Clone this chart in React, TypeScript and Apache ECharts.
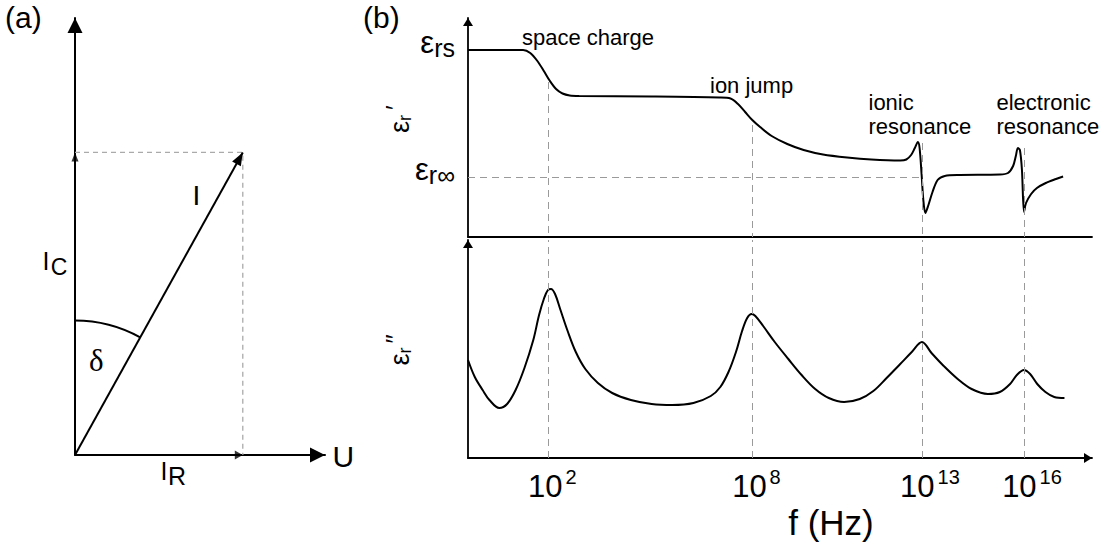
import React, { useEffect, useRef } from 'react';
import * as echarts from 'echarts';

// ---------------- data ----------------
// (a) phasor diagram, arbitrary current units (I_R = 1)
const currentIR = 1.0;
const currentIC = 1.8;
const deltaArcRadius = 0.8;
const phasorXMax = 1.49;
const phasorYMax = 2.6;

// (b) dielectric spectrum, x = log10(f / Hz), permittivity in arbitrary units
const logFMin = -0.35;
const logFMax = 18.0;
const resonanceLogF = [2, 8, 13, 16];
const tickExponents = ['2', '8', '13', '16'];
const mechanismNames = ['space charge', 'ion jump', 'ionic\nresonance', 'electronic\nresonance'];

const epsRealLogF = [
  -0.35, 1.27, 1.48, 1.69, 1.88, 2.06, 2.24, 2.43, 2.64, 2.92, 5.05, 7.04, 7.37, 7.59, 7.8, 8.01,
  8.24, 8.58, 9.04, 9.52, 10.09, 10.8, 11.51, 12.36, 12.54, 12.68, 12.79, 12.88, 12.93, 12.99,
  13.04, 13.1, 13.19, 13.31, 13.46, 13.67, 14.11, 15.29, 15.53, 15.68, 15.76, 15.82, 15.88, 15.94,
  16.0, 16.06, 16.21, 16.38, 16.64, 16.94, 17.15,
];
const epsRealValues = [
  18.7, 18.7, 18.4, 17.6, 16.6, 15.6, 14.8, 14.35, 14.15, 14.1, 14.05, 13.95, 13.85, 13.3, 12.5, 11.7,
  11.0, 10.1, 9.3, 8.7, 8.25, 7.95, 7.75, 7.65, 7.75, 8.2, 8.9, 9.5, 8.9, 6.2,
  3.7, 2.4, 3.2, 4.5, 5.7, 6.1, 6.2, 6.25, 6.4, 7.1, 8.1, 8.9, 8.7, 6.7,
  2.5, 3.4, 4.3, 4.9, 5.4, 5.8, 6.05,
];
const epsStatic = 18.7;
const epsInfinity = 6.0;
const epsRealGuideTop = [15.5, 11.2, 9.4, 8.9];
const epsRealMax = 21.9;

const epsImagLogF = [
  -0.35, -0.15, 0.08, 0.28, 0.57, 0.8, 1.05, 1.31, 1.57, 1.74, 1.89, 2.0, 2.09, 2.21, 2.37, 2.58,
  2.82, 3.1, 3.47, 3.89, 4.44, 5.05, 5.66, 6.28, 6.79, 7.07, 7.31, 7.53, 7.71, 7.86, 7.99, 8.1,
  8.33, 8.67, 9.07, 9.46, 9.86, 10.26, 10.71, 11.17, 11.57, 11.96, 12.36, 12.7, 13.0, 13.28,
  13.64, 14.05, 14.46, 14.94, 15.29, 15.59, 15.79, 16.0, 16.18, 16.39, 16.63, 16.89, 17.19,
];
const epsImagValues = [
  9.8, 8.1, 6.8, 5.8, 5.0, 5.4, 6.8, 9.0, 11.8, 14.3, 16.0, 16.8, 16.9, 16.4, 14.8, 12.7,
  10.6, 8.9, 7.5, 6.5, 5.8, 5.4, 5.3, 5.5, 6.2, 7.1, 8.6, 10.6, 12.7, 14.0, 14.4, 14.2,
  13.2, 11.6, 9.9, 8.3, 6.9, 6.0, 5.6, 5.9, 6.7, 8.0, 9.4, 10.6, 11.6, 10.5,
  9.2, 7.9, 6.9, 6.4, 6.6, 7.4, 8.3, 8.8, 8.4, 7.4, 6.6, 6.1, 6.0,
];
const epsImagMax = 21.8;

// ---------------- styles ----------------
const font = "'Liberation Sans', Arial, sans-serif";
const serif = "'Liberation Serif', 'Times New Roman', serif";
const black = '#000';
const guideGray = '#9a9a9a';

export default function App() {
  const ref = useRef<HTMLDivElement>(null);

  useEffect(() => {
    if (!ref.current) return;
    const chart = echarts.init(ref.current, null, { renderer: 'svg' });

    const realData = epsRealLogF.map((x, i) => [x, epsRealValues[i]]);
    const imagData = epsImagLogF.map((x, i) => [x, epsImagValues[i]]);

    // phasor arrow direction (grid (a) has width 250, height 437)
    const dxPx = (currentIR / phasorXMax) * 250;
    const dyPx = (currentIC / phasorYMax) * 437;
    const tilt = Math.atan2(dxPx, dyPx);
    const tiltDeg = (tilt * 180) / Math.PI;
    const headLen = 13;

    const hiddenAxisParts = {
      axisTick: { show: false },
      splitLine: { show: false },
    };

    const text = (
      t: string,
      x: number,
      y: number,
      size: number,
      extra: Record<string, unknown> = {}
    ) => ({
      type: 'text',
      x,
      y,
      silent: true,
      style: {
        text: t,
        fontSize: size,
        fontFamily: font,
        fill: black,
        align: 'left',
        verticalAlign: 'middle',
        ...extra,
      },
    });

    const option: any = {
      animation: false,
      backgroundColor: '#fff',
      grid: [
        { left: 468, top: 18, width: 624, height: 219 },
        { left: 468, top: 240, width: 624, height: 218 },
        { left: 75, top: 18, width: 250, height: 437 },
      ],
      xAxis: [
        {
          gridIndex: 0,
          type: 'value',
          min: logFMin,
          max: logFMax,
          axisLine: { show: true, onZero: false, lineStyle: { color: black, width: 1.8 } },
          axisLabel: { show: false },
          ...hiddenAxisParts,
        },
        {
          gridIndex: 1,
          type: 'value',
          min: logFMin,
          max: logFMax,
          axisLine: {
            show: true,
            onZero: false,
            symbol: ['none', 'triangle'],
            symbolSize: [10, 8],
            symbolOffset: [0, -4],
            lineStyle: { color: black, width: 1.8 },
          },
          axisLabel: {
            show: true,
            customValues: resonanceLogF,
            margin: 9,
            color: black,
            fontFamily: font,
            formatter: (v: number) => {
              const i = resonanceLogF.findIndex((d) => Math.abs(d - v) < 1e-6);
              const e = tickExponents[i] ?? '';
              return `{${e.length > 1 ? 'p2' : 'p1'}| }{b|10}{s|${e}}`;
            },
            rich: {
              p1: { width: 9, fontSize: 10 },
              p2: { width: 16, fontSize: 10 },
              b: { fontSize: 31, fontFamily: font, color: black },
              s: { fontSize: 20, fontFamily: font, color: black, padding: [0, 0, 18, 3] },
            },
          },
          ...hiddenAxisParts,
        },
        {
          gridIndex: 2,
          type: 'value',
          min: 0,
          max: phasorXMax,
          axisLine: {
            show: true,
            onZero: false,
            symbol: ['none', 'triangle'],
            symbolSize: [15, 15],
            symbolOffset: [0, -7.5],
            lineStyle: { color: black, width: 2 },
          },
          axisLabel: { show: false },
          ...hiddenAxisParts,
        },
      ],
      yAxis: [
        {
          gridIndex: 0,
          type: 'value',
          min: 0,
          max: epsRealMax,
          axisLine: {
            show: true,
            onZero: false,
            symbol: ['none', 'triangle'],
            symbolSize: [10, 8],
            symbolOffset: [0, -4],
            lineStyle: { color: black, width: 1.8 },
          },
          axisLabel: {
            show: true,
            customValues: [epsStatic, epsInfinity],
            margin: 13,
            color: black,
            fontFamily: font,
            formatter: (v: number) =>
              Math.abs(v - epsStatic) < 1e-6 ? '{e|ε}{s|rs}' : '{e|ε}{s|r∞}',
            rich: {
              e: { fontSize: 31, fontFamily: font, color: black, padding: [0, 0, 16, 0] },
              s: { fontSize: 25, fontFamily: font, color: black, padding: [0, 0, 4, 0] },
            },
          },
          ...hiddenAxisParts,
        },
        {
          gridIndex: 1,
          type: 'value',
          min: 0,
          max: epsImagMax,
          axisLine: {
            show: true,
            onZero: false,
            symbol: ['none', 'triangle'],
            symbolSize: [10, 8],
            symbolOffset: [0, -4],
            lineStyle: { color: black, width: 1.8 },
          },
          axisLabel: { show: false },
          ...hiddenAxisParts,
        },
        {
          gridIndex: 2,
          type: 'value',
          min: 0,
          max: phasorYMax,
          axisLine: {
            show: true,
            onZero: false,
            symbol: ['none', 'triangle'],
            symbolSize: [15, 15],
            symbolOffset: [0, -7.5],
            lineStyle: { color: black, width: 2 },
          },
          axisLabel: { show: false },
          ...hiddenAxisParts,
        },
      ],
      series: [
        {
          name: "ε'r",
          type: 'line',
          xAxisIndex: 0,
          yAxisIndex: 0,
          data: realData,
          smooth: 0.3,
          symbol: 'none',
          silent: true,
          z: 3,
          lineStyle: { color: black, width: 2 },
          markLine: {
            silent: true,
            symbol: 'none',
            label: { show: false },
            lineStyle: { type: [7, 5], color: guideGray, width: 1 },
            data: [
              ...resonanceLogF.map((d, i) => [
                { coord: [d, epsRealGuideTop[i]] },
                { coord: [d, 0] },
              ]),
              [{ coord: [logFMin, epsInfinity] }, { coord: [resonanceLogF[2], epsInfinity] }],
            ],
          },
        },
        {
          name: "ε''r",
          type: 'line',
          xAxisIndex: 1,
          yAxisIndex: 1,
          data: imagData,
          smooth: 0.35,
          symbol: 'none',
          silent: true,
          z: 3,
          lineStyle: { color: black, width: 2 },
          markLine: {
            silent: true,
            symbol: 'none',
            label: { show: false },
            lineStyle: { type: [7, 5], color: guideGray, width: 1 },
            data: resonanceLogF.map((d) => [{ coord: [d, 0] }, { coord: [d, epsImagMax] }]),
          },
        },
        {
          name: 'projections',
          type: 'line',
          xAxisIndex: 2,
          yAxisIndex: 2,
          data: [
            [0, currentIC],
            [currentIR, currentIC],
            [currentIR, 0],
          ],
          symbol: 'none',
          silent: true,
          lineStyle: { color: '#aaa', width: 1.3, type: [5, 4] },
        },
        {
          name: 'I',
          type: 'line',
          xAxisIndex: 2,
          yAxisIndex: 2,
          silent: true,
          showSymbol: true,
          z: 4,
          data: [
            { value: [0, 0], symbol: 'none' },
            {
              value: [currentIR, currentIC],
              symbol: 'triangle',
              symbolSize: [10, headLen],
              symbolRotate: -tiltDeg,
              symbolOffset: [-Math.sin(tilt) * headLen * 0.5, Math.cos(tilt) * headLen * 0.5],
            },
          ],
          lineStyle: { color: black, width: 2 },
          itemStyle: { color: black },
        },
        {
          name: 'component heads',
          type: 'scatter',
          xAxisIndex: 2,
          yAxisIndex: 2,
          silent: true,
          z: 4,
          itemStyle: { color: black },
          data: [
            { value: [0, currentIC], symbol: 'triangle', symbolSize: [7, 9], symbolOffset: [0, 4.5] },
            {
              value: [currentIR, 0],
              symbol: 'triangle',
              symbolSize: [9, 8],
              symbolRotate: -90,
              symbolOffset: [-4, 0],
            },
          ],
        },
        {
          name: 'delta',
          type: 'custom',
          xAxisIndex: 2,
          yAxisIndex: 2,
          silent: true,
          data: [[0, 0]],
          renderItem: (_params: any, api: any) => {
            const o = api.coord([api.value(0), api.value(1)]);
            const tip = api.coord([currentIR, currentIC]);
            const r = api.size([0, deltaArcRadius])[1];
            const end = Math.atan2(tip[1] - o[1], tip[0] - o[0]);
            return {
              type: 'arc',
              shape: { cx: o[0], cy: o[1], r, startAngle: -Math.PI / 2, endAngle: end, clockwise: true },
              style: { stroke: black, lineWidth: 2, fill: null },
            };
          },
        },
      ],
      graphic: [
        // panel tags
        text('(a)', 5, 17, 30),
        text('(b)', 363, 17, 30),
        // phasor labels
        text('I', 192.5, 195.3, 28),
        text('I', 42.6, 261.3, 25),
        text('C', 50.8, 267, 23),
        text('δ', 89, 360, 31, { fontFamily: serif }),
        text('I', 160.6, 471.3, 25),
        text('R', 168, 476.3, 25),
        text('U', 332.6, 456.6, 30),
        // mechanism labels
        text(mechanismNames[0], 522, 25.4, 22, { verticalAlign: 'top', lineHeight: 24 }),
        text(mechanismNames[1], 710, 73.4, 22, { verticalAlign: 'top', lineHeight: 24 }),
        text(mechanismNames[2], 868.5, 90.4, 22, { verticalAlign: 'top', lineHeight: 24 }),
        text(mechanismNames[3], 996.5, 90.4, 22, { verticalAlign: 'top', lineHeight: 24 }),
        // axis names
        text('f (Hz)', 831, 522, 35, { align: 'center' }),
        {
          type: 'text',
          x: 400,
          y: 119,
          rotation: Math.PI / 2,
          silent: true,
          style: {
            text: '{e|ε}{r|r}{p|′}',
            align: 'center',
            verticalAlign: 'middle',
            fill: black,
            rich: {
              e: { fontSize: 27, fontFamily: font, fill: black },
              r: { fontSize: 18, fontFamily: font, fill: black, padding: [9, 0, 0, 0] },
              p: { fontSize: 26, fontFamily: font, fill: black, padding: [0, 0, 10, 5] },
            },
          },
        },
        {
          type: 'text',
          x: 400,
          y: 350,
          rotation: Math.PI / 2,
          silent: true,
          style: {
            text: '{e|ε}{r|r}{p|″}',
            align: 'center',
            verticalAlign: 'middle',
            fill: black,
            rich: {
              e: { fontSize: 27, fontFamily: font, fill: black },
              r: { fontSize: 18, fontFamily: font, fill: black, padding: [9, 0, 0, 0] },
              p: { fontSize: 26, fontFamily: font, fill: black, padding: [0, 0, 10, 4] },
            },
          },
        },
      ],
    };

    chart.setOption(option);
    return () => chart.dispose();
  }, []);

  return (
    <div
      ref={ref}
      style={{ position: 'fixed', left: 0, top: 0, width: 1115, height: 550, background: '#fff' }}
    />
  );
}
